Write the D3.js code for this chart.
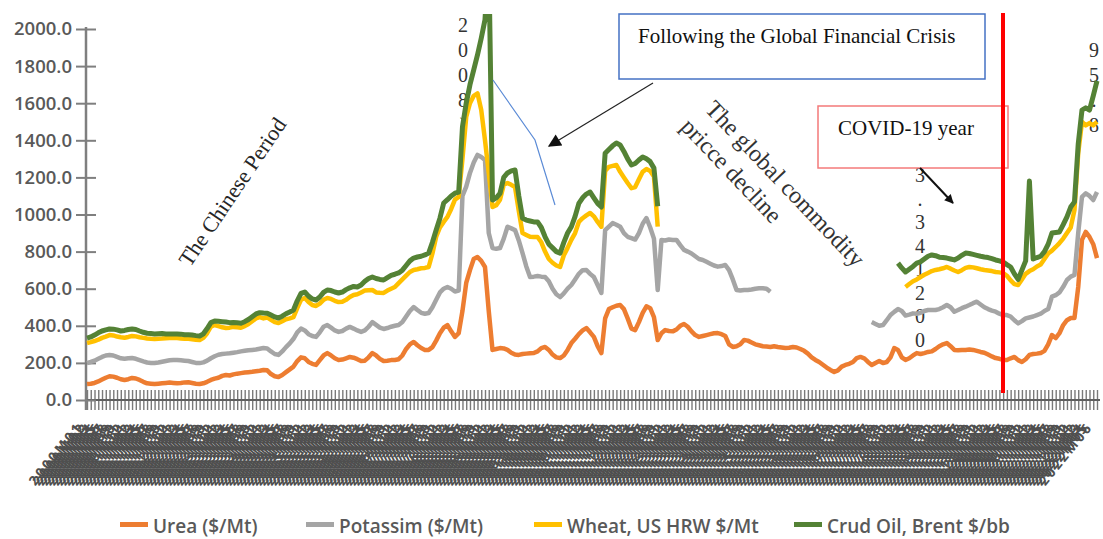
<!DOCTYPE html>
<html>
<head>
<meta charset="utf-8">
<script src="https://cdn.jsdelivr.net/npm/d3@7"></script>
<style>
  body { margin: 0; background: #fff; }
  svg { display: block; }
</style>
</head>
<body>
<svg id="chart" width="1103" height="539"></svg>
<script>
// Monthly categories, 2000M01 .. 2022M06
const months = d3.range(270).map(i => `${2000 + Math.floor(i / 12)}M${String(i % 12 + 1).padStart(2, "0")}`);

const yTicks = [0, 200, 400, 600, 800, 1000, 1200, 1400, 1600, 1800, 2000];

// Urea ($/Mt)
const urea = [
  86,88,92,100,110,120,128,126,120,112,108,112,
  119,116,108,98,90,88,86,88,90,92,94,92,
  90,92,95,96,92,88,86,90,98,108,115,120,
  130,135,132,138,142,145,148,150,152,155,158,162,
  160,140,128,124,135,150,165,180,210,230,225,205,
  195,189,215,240,253,240,225,216,218,225,232,228,
  220,210,212,230,253,240,222,210,212,215,216,220,
  240,275,300,313,295,280,270,270,285,320,360,390,
  404,370,340,360,480,631,700,760,771,750,717,480,
  270,275,280,278,270,255,245,243,248,250,252,253,
  262,280,286,270,245,230,226,240,270,307,330,355,
  375,388,365,340,290,253,440,490,500,508,512,490,
  440,385,377,420,470,505,495,447,323,360,377,372,
  370,380,400,410,395,370,350,340,345,350,355,360,
  361,355,345,300,286,290,300,323,320,310,300,295,
  290,288,286,290,286,283,280,282,286,283,275,265,
  250,230,216,205,190,175,162,151,160,180,189,195,
  205,226,232,225,205,189,200,210,199,205,230,280,
  270,230,216,225,240,253,248,253,259,262,275,290,
  300,307,290,270,268,270,270,272,270,265,259,255,
  245,235,226,222,216,216,225,232,215,205,220,243,
  248,250,253,265,300,350,334,360,404,430,442,442,
  609,863,906,879,840,765
];

// Potassim ($/Mt)
const potash = [
  113,117,120,122,122,120,115,114,112,113,114,113,
  107,106,107,110,112,112,113,114,116,118,120,124,
  126,122,117,114,113,112,113,113,114,117,121,124,
  118,115,120,117,116,117,117,118,118,117,118,118,
  118,122,120,119,127,135,140,150,155,155,150,150,
  150,151,150,155,151,150,150,151,154,160,162,157,
  155,157,163,165,167,165,168,173,176,180,184,184,
  180,175,180,188,190,190,195,199,215,220,220,210,
  205,230,245,230,620,519,524,520,550,560,577,420,
  549,540,539,592,664,670,671,617,544,470,411,412,
  406,385,377,370,355,340,329,335,330,313,320,325,
  325,313,315,323,330,324,476,445,454,437,422,410,
  440,488,488,480,480,476,435,423,270,503,483,493,
  493,483,435,399,405,420,425,420,410,395,380,365,
  358,367,383,400,364,303,290,270,273,286,300,307,
  312,312,298,
  null,null,null,null,null,null,null,null,null,null,null,null,null,
  null,null,null,null,null,null,null,null,null,null,null,null,null,
  231,210,190,205,225,228,195,
  220,250,239,235,227,212,222,227,226,223,210,200,
  200,205,210,206,217,225,233,240,252,265,256,245,
  245,247,250,243,242,242,225,198,198,220,220,202,
  202,208,212,215,190,207,231,220,206,217,223,232,
  291,232,208,221,238,356
];

// Wheat, US HRW $/Mt
const wheat = [
  108,107,106,103,103,102,107,108,110,113,114,115,
  119,121,123,127,130,130,130,128,125,123,120,118,
  118,118,118,120,123,125,124,132,148,170,168,154,
  144,138,138,139,134,128,133,142,155,168,171,160,
  167,170,172,172,163,150,135,117,130,155,175,173,
  167,167,155,145,146,155,160,161,158,155,161,181,
  195,213,215,197,173,175,188,194,202,205,209,226,
  230,220,210,200,220,240,247,248,290,340,350,360,
  378,430,495,505,200,376,376,360,332,253,106,324,
  221,235,261,290,236,235,232,160,108,170,217,214,
  211,185,137,120,140,155,162,205,220,243,250,280,
  280,294,328,327,340,357,319,322,308,322,296,300,
  290,269,283,290,280,264,305,335,342,
  null,null,null,null,null,null,null,null,null,null,null,null,null,
  null,null,null,null,null,null,null,null,null,null,null,null,null,
  null,null,null,null,null,null,null,null,null,null,null,null,null,
  null,null,null,null,null,null,null,null,null,null,null,null,null,
  null,null,null,null,null,null,null,null,null,null,null,null,null,
  154,165,173,185,193,195,200,210,216,215,
  210,205,208,222,205,205,209,205,193,180,190,201,
  208,213,214,223,227,212,195,195,
  207,225,240,250,255,262,265,280,300,248,260,266,260,253,265,350,
  431,405,366,393,402,379
];

// Crud Oil, Brent $/bb
const oil = [
  27,28,32,37,37,36,33,34,36,34,39,40,
  38,37,34,30,28,28,27,27,27,23,22,22,
  22,23,22,22,22,22,22,22,25,22,22,26,
  30,32,27,24,24,24,24,24,24,24,24,29,
  23,26,28,27,27,30,35,38,40,35,32,32,
  33,32,35,40,43,45,47,49,52,55,50,46,
  39,40,50,63,70,75,72,70,70,72,69,55,
  50,55,60,64,66,65,70,75,60,36,50,102,
  93,70,35,26,172,74,100,140,207,387,650,1176,
  38,40,34,40,54,75,92,80,80,80,85,81,
  81,80,80,80,80,75,75,70,80,71,90,100,
  110,115,113,100,100,106,95,93,108,118,145,140,
  130,125,127,104,80,55,50,45,110,
  null,null,null,null,null,null,null,null,null,
  null,null,null,null,null,null,null,null,null,
  null,null,null,null,null,null,null,null,null,
  null,null,null,null,null,null,null,null,null,
  null,null,null,null,null,null,null,null,null,
  null,null,null,null,null,null,null,null,null,
  null,null,null,null,null,null,null,null,null,
  248,232,81,80,80,88,82,85,90,87,77,65,
  58,48,52,57,75,80,80,73,70,70,70,70,
  70,67,65,62,59,60,72,55,30,50,70,485,
  55,48,45,40,50,95,78,60,75,87,110,44,
  49,63,95,70,160,220
];

const seriesKeys = ["urea", "potash", "wheat", "oil"];
const seriesNames = ["Urea ($/Mt)", "Potassim ($/Mt)", "Wheat, US HRW $/Mt", "Crud Oil, Brent $/bb"];
const seriesColors = ["#ED7D31", "#A5A5A5", "#FFC000", "#548235"];

// Stacked data labels drawn one character per line
const peakLabel = ["2", "0", "0", "8", ")"];
const covidLabel = ["3", ".", "3", "4", "1", "2", "0", "0"];
const endLabel = ["9", "5", ".", "8"];

// ------------------------------------------------------------------
const W = 1103, H = 539;
const sans = "'Open Sans', 'Noto Sans', sans-serif";
const serif = "'Liberation Serif', 'Times New Roman', serif";
const axisGray = "#7f7f7f";
const textGray = "#595959";

const svg = d3.select("#chart");
svg.append("rect").attr("width", W).attr("height", H).attr("fill", "#fff");

const x = d3.scalePoint().domain(months).range([87, 1097]);
const y = d3.scaleLinear().domain([0, 2000]).range([400, 29]);

const rows = months.map((m, i) => ({ month: m, urea: urea[i], potash: potash[i], wheat: wheat[i], oil: oil[i] }));
const stacked = d3.stack().keys(seriesKeys).value((d, k) => d[k] == null ? 0 : d[k])(rows);

// ---- x axis: dense crossing ticks with rotated month labels
const xAxis = d3.axisBottom(x).tickSizeInner(10).tickSizeOuter(0).tickPadding(0);
const gx = svg.append("g").attr("transform", "translate(0,400)").call(xAxis);
gx.select(".domain").remove();
gx.selectAll(".tick line")
  .attr("y1", -10).attr("y2", 10)
  .attr("stroke", "#7a7a7a").attr("stroke-width", 1.4);
gx.selectAll(".tick text")
  .attr("x", 0).attr("y", 0).attr("dy", 0)
  .attr("transform", "translate(-4,27) rotate(-51)")
  .attr("text-anchor", "end")
  .attr("font-family", sans).attr("font-weight", 700).attr("font-size", 13.5)
  .attr("letter-spacing", "2.5px")
  .attr("fill", "#4f4f4f");
svg.append("line").attr("x1", 86).attr("x2", 1100).attr("y1", 400).attr("y2", 400)
  .attr("stroke", "#5f5f5f").attr("stroke-width", 2);

// ---- y axis
const yAxis = d3.axisLeft(y).tickValues(yTicks).tickFormat(d3.format(".1f")).tickSize(10).tickPadding(4);
const gy = svg.append("g").attr("transform", "translate(86,0)").call(yAxis);
gy.select(".domain").remove();
gy.selectAll(".tick line").attr("x1", 10).attr("x2", -10).attr("stroke", axisGray).attr("stroke-width", 2);
gy.selectAll(".tick text")
  .attr("font-family", sans).attr("font-weight", 600).attr("font-size", 18.5)
  .attr("fill", textGray);
svg.append("line").attr("x1", 86).attr("x2", 86).attr("y1", 27).attr("y2", 410)
  .attr("stroke", axisGray).attr("stroke-width", 2.5);

// ---- stacked character labels (behind the lines)
function stackedChars(chars, cx, y0, step) {
  svg.append("g").selectAll("text").data(chars).join("text")
    .attr("x", cx).attr("y", (d, i) => y0 + i * step)
    .attr("text-anchor", "middle")
    .attr("font-family", serif).attr("font-size", 20)
    .attr("fill", "#333")
    .text(d => d);
}
stackedChars(peakLabel, 463, 32, 25);
stackedChars(covidLabel, 920, 182, 23.5);
stackedChars(endLabel, 1094, 57, 25);

// ---- series lines
svg.append("clipPath").attr("id", "plot-clip")
  .append("rect").attr("x", 80).attr("y", 14).attr("width", 1030).attr("height", 400);

const plot = svg.append("g").attr("clip-path", "url(#plot-clip)");
stacked.forEach((layer, li) => {
  const key = seriesKeys[li];
  const line = d3.line()
    .defined(d => d.data[key] != null)
    .x(d => x(d.data.month))
    .y(d => y(d[1]));
  plot.append("path")
    .datum(layer)
    .attr("d", line)
    .attr("fill", "none")
    .attr("stroke", seriesColors[li])
    .attr("stroke-width", li === 3 ? 5 : 4.5)
    .attr("stroke-linejoin", "round")
    .attr("stroke-linecap", "butt");
});

// ---- annotations
const defs = svg.append("defs");
defs.append("marker").attr("id", "arrow-head")
  .attr("viewBox", "0 0 10 10").attr("refX", 9).attr("refY", 5)
  .attr("markerWidth", 16).attr("markerHeight", 13).attr("markerUnits", "userSpaceOnUse")
  .attr("orient", "auto")
  .append("path").attr("d", "M0,0 L10,5 L0,10 Z").attr("fill", "#111");
defs.append("marker").attr("id", "arrow-head-small")
  .attr("viewBox", "0 0 10 10").attr("refX", 9).attr("refY", 5)
  .attr("markerWidth", 11).attr("markerHeight", 9).attr("markerUnits", "userSpaceOnUse")
  .attr("orient", "auto")
  .append("path").attr("d", "M0,0 L10,5 L0,10 Z").attr("fill", "#111");

svg.append("text")
  .attr("transform", "translate(190,268) rotate(-56)")
  .attr("font-family", serif).attr("font-size", 22).attr("fill", "#262626")
  .text("The Chinese Period");

const decline = svg.append("g").attr("transform", "translate(704,110) rotate(46.4)")
  .attr("font-family", serif).attr("font-size", 24).attr("fill", "#333");
decline.append("text").attr("x", 0).attr("y", 0).text("The global commodity");
decline.append("text").attr("x", -4).attr("y", 30).text("pricce decline");

// financial crisis callout
svg.append("rect").attr("x", 619).attr("y", 14).attr("width", 366).attr("height", 65)
  .attr("fill", "#fff").attr("stroke", "#4472C4").attr("stroke-width", 1.5);
svg.append("text").attr("x", 638).attr("y", 43)
  .attr("font-family", serif).attr("font-size", 21).attr("fill", "#111")
  .text("Following the Global Financial Crisis");
svg.append("line").attr("x1", 653).attr("y1", 83).attr("x2", 549).attr("y2", 146)
  .attr("stroke", "#222").attr("stroke-width", 1.2).attr("marker-end", "url(#arrow-head)");
svg.append("polyline").attr("points", "493,80 535,140 555,205")
  .attr("fill", "none").attr("stroke", "#5B8BD6").attr("stroke-width", 1.2);

// covid callout
svg.append("rect").attr("x", 818).attr("y", 106).attr("width", 190).attr("height", 62)
  .attr("fill", "none").attr("stroke", "#F47A7A").attr("stroke-width", 1.5);
svg.append("text").attr("x", 838).attr("y", 135)
  .attr("font-family", serif).attr("font-size", 21).attr("fill", "#111")
  .text("COVID-19 year");
svg.append("line").attr("x1", 920).attr("y1", 168).attr("x2", 953).attr("y2", 203)
  .attr("stroke", "#111").attr("stroke-width", 2).attr("marker-end", "url(#arrow-head-small)");

svg.append("line").attr("x1", 1003).attr("x2", 1003).attr("y1", 13).attr("y2", 393)
  .attr("stroke", "#FF0000").attr("stroke-width", 4);

// ---- legend
const legendX = [120, 306, 534, 794];
const legend = svg.append("g");
seriesNames.forEach((name, i) => {
  legend.append("rect").attr("x", legendX[i]).attr("y", 522).attr("width", 28).attr("height", 5)
    .attr("fill", seriesColors[i]);
  legend.append("text").attr("x", legendX[i] + 33).attr("y", 533)
    .attr("font-family", sans).attr("font-weight", 600).attr("font-size", 19)
    .attr("fill", textGray).text(name);
});
</script>
</body>
</html>
